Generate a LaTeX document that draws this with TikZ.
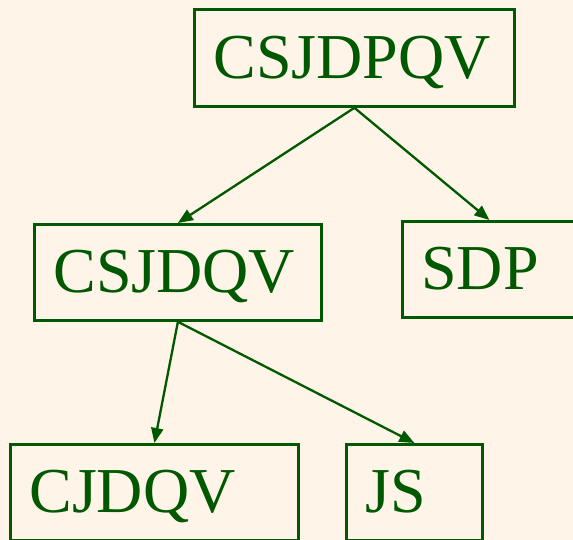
\documentclass[tikz,border=0pt]{standalone}
\usepackage{fontspec}
\setmainfont{Liberation Serif}
\usetikzlibrary{arrows.meta}
\definecolor{bgcream}{RGB}{254,244,232}
\definecolor{dgreen}{RGB}{0,88,0}
\begin{document}
\begin{tikzpicture}[x=1pt,y=-1pt,
  treebox/.style={draw=dgreen, line width=2.8pt, anchor=north west,
    inner xsep=19pt, inner ysep=0pt, align=left,
    text=dgreen, font=\fontsize{64}{70}\selectfont,
    text height=49pt, text depth=8pt},
  link/.style={draw=dgreen, line width=2.3pt, -{Triangle[length=15pt,width=12pt]}}]
\fill[bgcream] (0,0) rectangle (573,540);
\useasboundingbox (0,0) rectangle (573,540);
\node[treebox, minimum width=320pt, minimum height=97pt, text width=282pt] (a) at (193,8) {CSJDPQV};
\node[treebox, minimum width=287pt, minimum height=96pt, text width=249pt] (b) at (33,223) {CSJDQV};
\node[treebox, minimum width=174pt, minimum height=96pt, text width=136pt] (c) at (401,220) {SDP};
\node[treebox, minimum width=288pt, minimum height=96pt, text width=250pt] (d) at (9,443) {CJDQV};
\node[treebox, minimum width=136pt, minimum height=96pt, text width=98pt] (e) at (345,443) {JS};
\draw[link] (a.south) -- (b.north);
\draw[link] (a.south) -- (c.north);
\draw[link] (b.south) -- (d.north);
\draw[link] (b.south) -- (e.north);
\end{tikzpicture}
\end{document}
